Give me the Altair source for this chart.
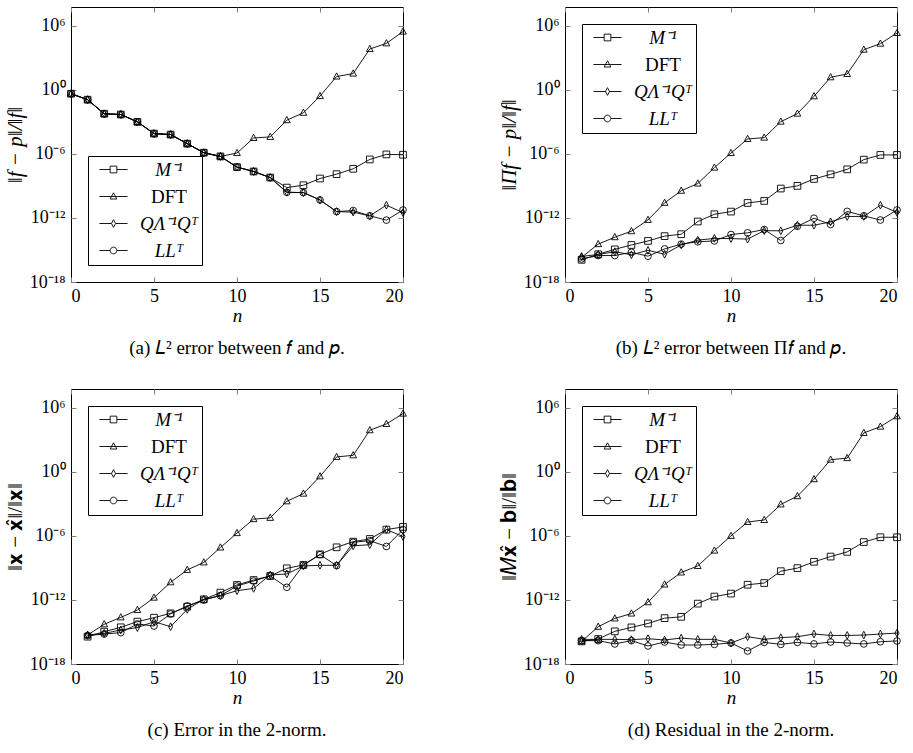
import altair as alt
import pandas as pd

# ---------------- data (log10 of the plotted values) -------------
methods = ["M⁻¹", "DFT", "QΛ⁻¹Qᵀ", "LLᵀ"]

n_a = [0, 1, 2, 3, 4, 5, 6, 7, 8, 9, 10, 11, 12, 13, 14, 15, 16, 17, 18, 19, 20]
n_bcd = [1, 2, 3, 4, 5, 6, 7, 8, 9, 10, 11, 12, 13, 14, 15, 16, 17, 18, 19, 20]

# (a) L2 error between f and p
a_M = [-0.35, -0.91, -2.23, -2.30, -2.99, -4.09, -4.18, -5.03, -5.88, -6.23, -7.23,
       -7.64, -8.21, -9.15, -8.93, -8.30, -7.89, -7.39, -6.51, -6.04, -6.07]
a_DFT = [-0.35, -0.91, -2.23, -2.30, -2.99, -4.09, -4.18, -5.03, -5.88, -6.23, -5.91,
         -4.50, -4.40, -2.83, -2.14, -0.57, 1.26, 1.54, 3.84, 4.37, 5.47]
a_Q = [-0.35, -0.91, -2.23, -2.30, -2.99, -4.09, -4.18, -5.03, -5.88, -6.23, -7.23,
       -7.64, -8.21, -9.59, -9.62, -10.31, -11.40, -11.45, -11.80, -10.80, -11.50]
a_LL = [-0.35, -0.91, -2.23, -2.30, -2.99, -4.09, -4.18, -5.03, -5.88, -6.23, -7.23,
        -7.64, -8.21, -9.59, -9.62, -10.31, -11.40, -11.30, -11.80, -12.20, -11.25]

# (b) L2 error between Pi f and p
b_M = [-15.92, -15.40, -14.94, -14.53, -14.15, -13.70, -13.52, -12.33, -11.65, -11.40,
       -10.59, -10.40, -9.24, -8.99, -8.34, -7.91, -7.44, -6.53, -6.09, -6.09]
b_DFT = [-15.69, -14.45, -13.80, -13.24, -12.18, -10.58, -9.45, -8.77, -7.28, -5.91,
         -4.59, -4.47, -2.97, -2.22, -0.59, 1.19, 1.50, 3.78, 4.34, 5.34]
b_Q = [-15.60, -15.42, -15.16, -15.45, -15.03, -15.40, -14.52, -14.08, -13.91, -13.93,
       -13.98, -13.19, -13.20, -12.68, -12.68, -12.36, -11.86, -11.85, -10.80, -11.47]
b_LL = [-15.84, -15.52, -15.52, -15.22, -15.58, -14.90, -14.45, -14.23, -14.15, -13.55,
        -13.39, -13.08, -14.11, -12.78, -12.02, -12.61, -11.38, -11.80, -12.19, -11.25]

# (c) Error in the 2-norm
c_M = [-15.44, -14.97, -14.56, -14.03, -13.66, -13.25, -12.63, -11.94, -11.31, -10.59,
       -10.13, -9.75, -9.03, -8.72, -7.72, -7.06, -6.53, -6.28, -5.40, -5.15]
c_DFT = [-15.28, -14.28, -13.63, -12.94, -11.78, -10.34, -9.18, -8.48, -7.08, -5.73,
         -4.42, -4.30, -2.75, -2.03, -0.41, 1.41, 1.56, 3.91, 4.50, 5.47]
c_Q = [-15.28, -15.13, -14.81, -14.59, -14.03, -14.50, -12.88, -11.94, -11.59, -11.13,
       -10.91, -9.66, -9.56, -8.81, -8.75, -8.75, -6.92, -6.82, -5.40, -6.05]
c_LL = [-15.34, -15.19, -15.06, -14.25, -14.44, -13.31, -12.56, -12.00, -11.59, -10.69,
        -10.22, -9.75, -10.81, -8.72, -7.75, -8.78, -6.59, -6.44, -6.98, -5.40]

# (d) Residual in the 2-norm
d_M = [-15.88, -15.66, -14.94, -14.57, -14.20, -13.70, -13.58, -12.34, -11.68, -11.40,
       -10.57, -10.41, -9.30, -9.01, -8.42, -7.93, -7.49, -6.57, -6.12, -6.12]
d_DFT = [-15.88, -14.51, -13.73, -13.27, -12.21, -10.55, -9.42, -8.81, -7.37, -5.99,
         -4.69, -4.50, -3.04, -2.27, -0.68, 1.15, 1.30, 3.66, 4.25, 5.22]
d_Q = [-15.69, -15.69, -15.69, -15.72, -15.63, -15.75, -15.57, -15.69, -15.69, -16.03,
       -15.44, -15.69, -15.53, -15.44, -15.19, -15.32, -15.32, -15.29, -15.19, -15.10]
d_LL = [-15.81, -15.81, -16.12, -15.81, -16.31, -15.94, -16.22, -16.22, -16.16, -16.03,
        -16.78, -15.97, -16.16, -15.97, -16.12, -15.94, -16.03, -16.12, -15.91, -15.84]

x_ticks = [0, 5, 10, 15, 20]
y_ticks = [1e-18, 1e-12, 1e-6, 1, 1e6]

# ---------------- style -------------
FONT = "Liberation Serif"
TICK = "#808080"
W, H = 332, 275
MSIZE = 45
LBL = 18

mark_shapes = [
    "M-1,-1H1V1H-1Z",
    "M0,-1.1L1,0.75L-1,0.75Z",
    "M0,-1.15L0.6,0L0,1.15L-0.6,0Z",
    "circle",
]
legend_shapes = [
    "M-4.2,0H-1M1,0H4.2M-1,-1H1V1H-1Z",
    "M-4.2,0H4.2M0,-1.1L1,0.75L-1,0.75Z",
    "M-4.2,0H-0.6M0.6,0H4.2M0,-1.15L0.6,0L0,1.15L-0.6,0Z",
    "M-4.2,0H-1M1,0H4.2M1,0A1,1,0,1,1,-1,0A1,1,0,1,1,1,0Z",
]

LABEL_EXPR = ("datum.value > 1e5 ? '10⁶' : datum.value > 1e-3 ? '10⁰' : "
              "datum.value > 1e-9 ? '10⁻⁶' : datum.value > 1e-15 ? '10⁻¹²' : '10⁻¹⁸'")

COMMON_AXIS = dict(domain=False, tickSize=5, offset=-5, tickColor=TICK, grid=False,
                   labelFont=FONT, labelFontSize=LBL, labelColor="black",
                   titleFont=FONT, titleColor="black", titleFontWeight="normal")


def panel(n, series, ytitle, ystyle, caption, legend_orient):
    rows = []
    for m, vals in zip(methods, series):
        for x, e in zip(n, vals):
            rows.append({"n": x, "method": m, "value": 10.0 ** e})
    df = pd.DataFrame(rows)
    xs = alt.Scale(domain=[0, 20], nice=False, zero=False)
    ys = alt.Scale(type="log", domain=[1e-18, 6e7], nice=False)
    base = alt.Chart(df)

    line = base.mark_line(color="black", strokeWidth=0.9).encode(
        x=alt.X("n:Q", scale=xs, axis=alt.Axis(
            orient="bottom", values=x_ticks, title="n", format="d", titleFontSize=19,
            titleFontStyle="italic", labelPadding=5, titlePadding=1, **COMMON_AXIS)),
        y=alt.Y("value:Q", scale=ys, axis=alt.Axis(
            orient="left", values=y_ticks, title=ytitle, labelExpr=LABEL_EXPR,
            titleFontSize=21, titleFontStyle=ystyle, labelPadding=6, titlePadding=4,
            **COMMON_AXIS)),
        detail="method:N",
    )
    pts = base.mark_point(filled=False, color="black", strokeWidth=0.9,
                          size=MSIZE, opacity=1).encode(
        x=alt.X("n:Q", scale=xs, axis=None),
        y=alt.Y("value:Q", scale=ys, axis=None),
        shape=alt.Shape("method:N", scale=alt.Scale(domain=methods, range=mark_shapes),
                        legend=None),
    )
    leg = base.transform_filter("datum.n < -100").mark_point(
        filled=False, color="black", strokeWidth=0.9, size=MSIZE, opacity=1).encode(
        x=alt.X("n:Q", scale=xs, axis=None),
        y=alt.Y("value:Q", scale=ys, axis=None),
        shape=alt.Shape("method:N", scale=alt.Scale(domain=methods, range=legend_shapes),
                        legend=alt.Legend(
                            title=None, orient=legend_orient, offset=17,
                            strokeColor="black", fillColor="white", padding=4,
                            cornerRadius=0, symbolSize=MSIZE, symbolStrokeWidth=0.9,
                            symbolStrokeColor="black", symbolOffset=12,
                            labelFont=FONT, labelFontSize=19, labelColor="black",
                            labelFontStyle=alt.ExprRef(
                                expr="datum.label == 'DFT' ? 'normal' : 'italic'"),
                            labelAlign="center", labelOffset=46, rowPadding=7)),
    )
    frame = base.mark_point(opacity=0).encode(
        x=alt.X("n:Q", scale=xs, axis=alt.Axis(
            orient="top", values=x_ticks, labels=False, title=None, domain=False,
            tickSize=5, offset=-5, tickColor=TICK, grid=False)),
        y=alt.Y("value:Q", scale=ys, axis=alt.Axis(
            orient="right", values=y_ticks, labels=False, title=None, domain=False,
            tickSize=5, offset=-5, tickColor=TICK, grid=False)),
    )
    return alt.layer(line, pts, leg, frame).resolve_scale(
        shape="independent").resolve_axis(
        x="independent", y="independent").properties(
        width=W, height=H,
        title=alt.TitleParams(caption, orient="bottom", font=FONT, fontSize=19,
                              fontWeight="normal", offset=14, anchor="middle",
                              frame="group", color="black"))


pa = panel(n_a, [a_M, a_DFT, a_Q, a_LL], "‖f − p‖/‖f‖", "italic",
           "(a) 𝐿² error between 𝑓 and 𝑝.", "bottom-left")
pb = panel(n_bcd, [b_M, b_DFT, b_Q, b_LL], "‖Πf − p‖/‖f‖", "italic",
           "(b) 𝐿² error between Π𝑓 and 𝑝.", "top-left")
pc = panel(n_bcd, [c_M, c_DFT, c_Q, c_LL], "‖𝐱 − 𝐱̂‖/‖𝐱‖", "normal",
           "(c) Error in the 2-norm.", "top-left")
pd_ = panel(n_bcd, [d_M, d_DFT, d_Q, d_LL], "‖𝑀𝐱̂ − 𝐛‖/‖𝐛‖", "normal",
            "(d) Residual in the 2-norm.", "top-left")

top = alt.hconcat(pa, pb, spacing=88).resolve_scale(shape="independent").resolve_legend(shape="independent")
bottom = alt.hconcat(pc, pd_, spacing=88).resolve_scale(shape="independent").resolve_legend(shape="independent")

chart = alt.vconcat(top, bottom, spacing=29).resolve_scale(
    shape="independent").resolve_legend(shape="independent").properties(
    padding={"left": 3, "top": 6, "right": 5, "bottom": 5},
    background="white",
).configure_view(stroke="black", strokeWidth=1)

chart.save("out.html", embed_options={"renderer": "svg", "actions": False})
